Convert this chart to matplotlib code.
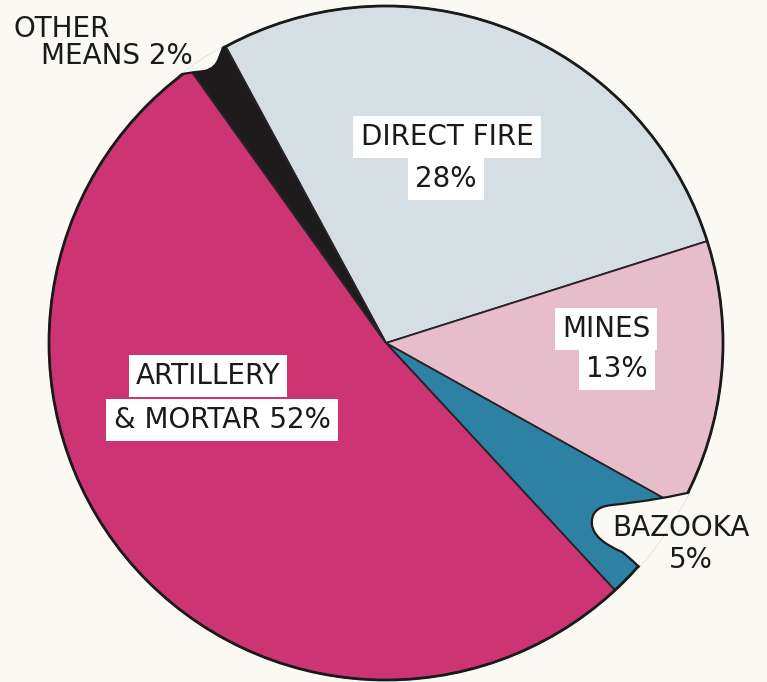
import matplotlib.pyplot as plt
import matplotlib.patches as mpatches
from matplotlib.path import Path

# causes of casualties, percent
causes = ['DIRECT FIRE', 'MINES', 'BAZOOKA', 'ARTILLERY & MORTAR', 'OTHER MEANS']
shares = [28, 13, 5, 52, 2]
colors = ['#d5dfe3', '#e7bccb', '#2d82a3', '#cc3473', '#1d1b1c']

W, H = 767, 682
cx, cy, r = 386, H - 343, 337

def py(y):
    # image pixel row -> axes y
    return H - y

fig = plt.figure(figsize=(W / 100, H / 100), dpi=100, facecolor='#fbf9f3')
ax = fig.add_axes([0, 0, 1, 1])
ax.set_facecolor('#fbf9f3')

wedges, _ = ax.pie(shares, colors=colors, startangle=118.4, counterclock=False,
                   center=(cx, cy), radius=r,
                   wedgeprops=dict(edgecolor='#2a2228', linewidth=1.3))
ax.add_patch(mpatches.Circle((cx, cy), r, fill=False, ec='#1a1a1a', lw=2, zorder=3))
ax.set_xlim(0, W)
ax.set_ylim(0, H)
ax.set_aspect('equal')
ax.axis('off')

# slightly larger than the pie so the rim under a notch is hidden too
clip = mpatches.Circle((cx, cy), r + 1.6, transform=ax.transData)

def cutout(curve, outside):
    # white notch cut into the pie round a label, outlined inside the pie only
    verts = [(x, py(y)) for x, y in curve + outside]
    codes = ([Path.MOVETO] + [Path.CURVE3] * (len(curve) - 1)
             + [Path.LINETO] * len(outside))
    p = mpatches.PathPatch(Path(verts, codes), fc='#fbf9f3', ec='#1a1a1a',
                           lw=1.6, zorder=4)
    ax.add_patch(p)
    p.set_clip_path(clip)

cutout([(232, 20), (224, 46), (219, 58), (216, 68), (205, 71),
        (194, 72), (182, 74)],
       [(150, 75), (150, 20)])
cutout([(700, 490), (660, 500), (612, 505), (590, 507), (592, 525),
        (594, 540), (622, 552), (630, 558), (637, 565)],
       [(700, 622), (800, 622), (800, 490)])

font = dict(family='DejaVu Sans', fontsize=20, color='#1a1a1a', zorder=6,
            ha='center', va='center')
box = dict(boxstyle='square,pad=0.26', fc='white', ec='none')

# direct fire
ax.text(447, py(137), causes[0], bbox=box, **font)
ax.text(446, py(179), f'{shares[0]}%', bbox=box, **font)
# mines
ax.text(606, py(329), causes[1], bbox=box, **font)
ax.text(617, py(369), f'{shares[1]}%', bbox=box, **font)
# bazooka
ax.text(681, py(528), causes[2], **font)
ax.text(691, py(560), f'{shares[2]}%', **font)
# artillery & mortar
ax.text(208, py(376), 'ARTILLERY', bbox=box, **font)
ax.text(222, py(420), f'& MORTAR {shares[3]}%', bbox=box, **font)
# other means
ax.text(62, py(29), 'OTHER', **font)
ax.text(117, py(56), f'MEANS {shares[4]}%', **font)

fig.savefig('out.png', dpi=100, facecolor=fig.get_facecolor())
